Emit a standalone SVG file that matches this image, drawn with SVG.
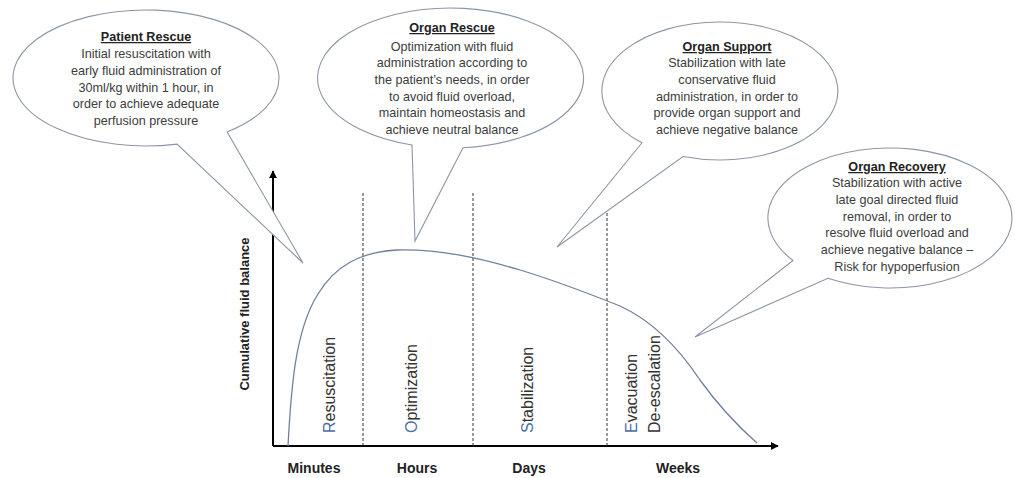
<svg xmlns="http://www.w3.org/2000/svg" width="1015" height="478" viewBox="0 0 1015 478">
<defs>
<marker id="arr" viewBox="0 0 10 10" refX="9" refY="5" markerWidth="4" markerHeight="4" orient="auto"><path d="M0,0 L10,5 L0,10 Z" fill="#000"/></marker>
<style>
.bub{fill:#fff;stroke:#8c96a6;stroke-width:1.1}
.bt{font-family:"Liberation Sans",Arial,sans-serif;font-size:12.6px;fill:#3c3c3c;text-anchor:middle}
.bh{font-weight:bold;text-decoration:underline;fill:#222}
.ph{font-family:"Liberation Sans",Arial,sans-serif;font-size:16px;fill:#333}
.bl{fill:#4a6ea8}
.ax{font-family:"Liberation Sans",Arial,sans-serif;font-size:14px;font-weight:bold;fill:#222;text-anchor:middle}
.dash{stroke:#333;stroke-width:1;stroke-dasharray:3,2;fill:none}
</style>
</defs>
<rect width="1015" height="478" fill="#fff"/>

<g id="connectors">
<line x1="273" y1="446" x2="273" y2="171" stroke="#000" stroke-width="2" marker-end="url(#arr)"/>
<line x1="273" y1="446" x2="778" y2="446" stroke="#000" stroke-width="2" marker-end="url(#arr)"/>
<line class="dash" x1="363" y1="193" x2="363" y2="446"/>
<line class="dash" x1="473" y1="193" x2="473" y2="446"/>
<line class="dash" x1="607" y1="193" x2="607" y2="446"/>
<path d="M288,446 C291,390 295,330 318,294 C335,266 360,252 397,250 C440,249 480,258 520,270 C560,282 600,298 620,306 C655,322 680,350 700,380 C720,408 740,428 757,443" fill="none" stroke="#71809a" stroke-width="1.3"/>
</g>

<g id="patient-rescue">
<path class="bub" d="M177,144.1 A133,68 0 1 1 227,131.9 L303,263 Z"/>
<text class="bt"><tspan class="bh" x="146" y="41">Patient Rescue</tspan><tspan x="146" y="58">Initial resuscitation with</tspan><tspan x="146" y="75">early fluid administration of</tspan><tspan x="146" y="92">30ml/kg within 1 hour, in</tspan><tspan x="146" y="108">order  to achieve adequate</tspan><tspan x="146" y="125">perfusion pressure</tspan></text>
</g>

<g id="organ-rescue">
<path class="bub" d="M412,145 A133,70 0 1 1 463,147.7 L415,241 Z"/>
<text class="bt"><tspan class="bh" x="452" y="32">Organ Rescue</tspan><tspan x="452" y="51">Optimization with fluid</tspan><tspan x="452" y="67">administration according to</tspan><tspan x="452" y="84">the patient’s needs, in order</tspan><tspan x="452" y="101">to avoid fluid overload,</tspan><tspan x="452" y="117">maintain homeostasis and</tspan><tspan x="452" y="134">achieve neutral balance</tspan></text>
</g>

<g id="organ-support">
<path class="bub" d="M642,142.8 A118,69 0 1 1 683,156.5 L557,247 Z"/>
<text class="bt"><tspan class="bh" x="727" y="51">Organ Support</tspan><tspan x="727" y="67">Stabilization with late</tspan><tspan x="727" y="84">conservative fluid</tspan><tspan x="727" y="101">administration, in order to</tspan><tspan x="727" y="117">provide organ support and</tspan><tspan x="727" y="134">achieve negative balance</tspan></text>
</g>

<g id="organ-recovery">
<path class="bub" d="M793,260.5 A122,70 0 1 1 828,278.3 L695,337 Z"/>
<text class="bt"><tspan class="bh" x="897" y="171">Organ Recovery</tspan><tspan x="897" y="187">Stabilization with active</tspan><tspan x="897" y="204">late goal directed fluid</tspan><tspan x="897" y="221">removal, in order to</tspan><tspan x="897" y="237">resolve fluid overload and</tspan><tspan x="897" y="254">achieve negative balance –</tspan><tspan x="897" y="271">Risk for hypoperfusion</tspan></text>
</g>

<g id="phases">
<text class="ph" transform="translate(335,433) rotate(-90)"><tspan class="bl">R</tspan>esuscitation</text>
<text class="ph" transform="translate(417,433) rotate(-90)"><tspan class="bl">O</tspan>ptimization</text>
<text class="ph" transform="translate(533,433) rotate(-90)"><tspan class="bl">S</tspan>tabilization</text>
<text class="ph" transform="translate(637,433) rotate(-90)"><tspan class="bl">E</tspan>vacuation</text>
<text class="ph" transform="translate(660,433) rotate(-90)">De-escalation</text>
</g>

<g id="axis-labels">
<text class="ax" transform="translate(249,314) rotate(-90)" style="font-size:13px">Cumulative fluid balance</text>
<text class="ax" x="314" y="473">Minutes</text>
<text class="ax" x="417" y="473">Hours</text>
<text class="ax" x="529" y="473">Days</text>
<text class="ax" x="678" y="473">Weeks</text>
</g>
</svg>
